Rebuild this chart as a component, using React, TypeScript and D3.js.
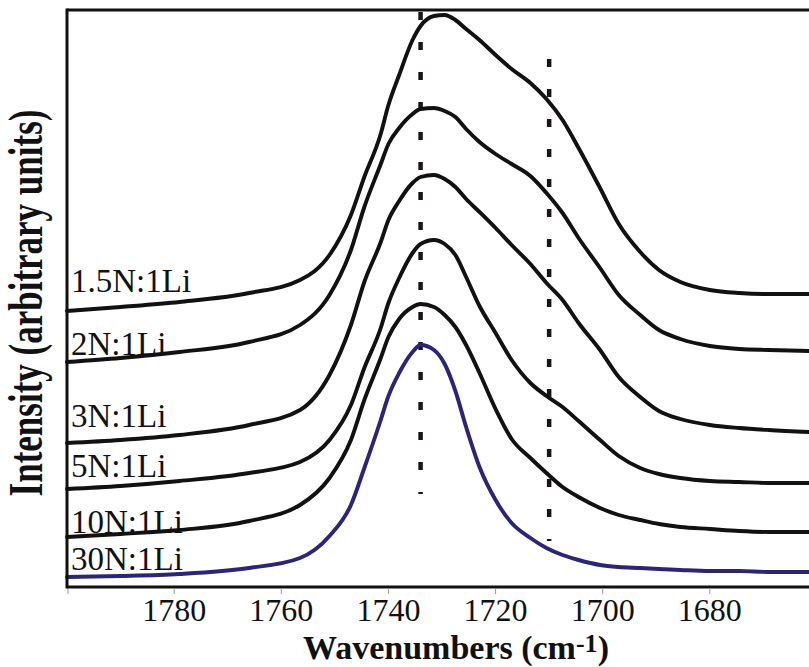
import React from "react";
import * as d3 from "d3";

// Wavenumber grid (cm-1) shared by every spectrum
const wavenumbers = [
  1800, 1790, 1779, 1766, 1756.5, 1751, 1747, 1744.5, 1741.5, 1740, 1738, 1735.5, 1734,
  1731.5, 1729.5, 1727.5, 1725.5, 1723, 1720, 1717, 1713.5, 1710.5, 1707.5, 1704.5,
  1700.5, 1697, 1693, 1689.5, 1685.5, 1680, 1674.5, 1669, 1661.5,
];

// Offset intensities (arbitrary units), one array per N:Li ratio
const s15N = [
  2.76, 2.8, 2.85, 2.94, 3.07, 3.32, 3.72, 4.1, 4.52, 4.82, 5.12, 5.47, 5.61, 5.71, 5.72,
  5.67, 5.58, 5.47, 5.32, 5.18, 5.04, 4.88, 4.67, 4.39, 3.99, 3.63, 3.35, 3.17, 3.05, 2.97,
  2.94, 2.93, 2.93,
];
const s2N = [
  2.25, 2.29, 2.35, 2.45, 2.62, 2.92, 3.37, 3.8, 4.22, 4.43, 4.59, 4.73, 4.78, 4.79, 4.76,
  4.7, 4.58, 4.45, 4.33, 4.23, 4.11, 3.94, 3.74, 3.49, 3.19, 2.92, 2.72, 2.57, 2.48, 2.41,
  2.38, 2.37, 2.36,
];
const s3N = [
  1.44, 1.47, 1.52, 1.62, 1.77, 2.12, 2.62, 3.05, 3.44, 3.67, 3.86, 4.04, 4.1, 4.12, 4.08,
  4.0, 3.88, 3.75, 3.59, 3.42, 3.23, 3.04, 2.87, 2.64, 2.37, 2.1, 1.9, 1.76, 1.68, 1.62,
  1.59, 1.57, 1.55,
];
const s5N = [
  0.98, 1.01, 1.06, 1.14, 1.25, 1.47, 1.82, 2.19, 2.58, 2.84, 3.09, 3.34, 3.43, 3.47, 3.43,
  3.32, 3.1, 2.81, 2.54, 2.27, 2.04, 1.91, 1.8, 1.66, 1.47, 1.31, 1.19, 1.13, 1.09, 1.06,
  1.05, 1.04, 1.04,
];
const s10N = [
  0.5, 0.53, 0.57, 0.66, 0.82, 1.09, 1.47, 1.87, 2.28, 2.5, 2.68, 2.8, 2.83, 2.8, 2.72,
  2.6, 2.42, 2.14, 1.78, 1.48, 1.29, 1.14, 1.0, 0.9, 0.79, 0.72, 0.67, 0.63, 0.6, 0.58,
  0.56, 0.55, 0.55,
];
const s30N = [
  0.1, 0.11, 0.13, 0.19, 0.29, 0.51, 0.82, 1.19, 1.66, 1.91, 2.14, 2.35, 2.42, 2.37, 2.23,
  1.96, 1.6, 1.2, 0.87, 0.64, 0.49, 0.39, 0.32, 0.27, 0.22, 0.2, 0.19, 0.18, 0.17, 0.16,
  0.16, 0.15, 0.15,
];

const seriesNames = ["1.5N:1Li", "2N:1Li", "3N:1Li", "5N:1Li", "10N:1Li", "30N:1Li"];
const seriesValues = [s15N, s2N, s3N, s5N, s10N, s30N];
const seriesColors = ["#111111", "#111111", "#111111", "#111111", "#111111", "#2b2579"];
// label baselines, in intensity units
const labelLevels = [2.95, 2.32, 1.6, 1.1, 0.54, 0.17];

// Reference band positions (cm-1) and their vertical extent
const bandPositions = [1734, 1710];
const bandTop = [5.75, 5.28];
const bandBottom = [0.93, 0.46];

const xTicks = [1800, 1780, 1760, 1740, 1720, 1700, 1680, 1660];
const xTickLabels = ["", "1780", "1760", "1740", "1720", "1700", "1680", ""];

const W = 809;
const H = 667;
const left = 67;
const top = 10;
const bottom = 587;

const serif = "'Liberation Serif', Tinos, 'Times New Roman', Times, serif";

export default function App() {
  const x = d3.scaleLinear().domain([1800, 1660]).range([left, 817]);
  const y = d3.scaleLinear().domain([0, 5.77]).range([bottom, top]);

  const line = d3
    .line<[number, number]>()
    .x((d) => x(d[0]))
    .y((d) => y(d[1]))
    .curve(d3.curveMonotoneX);

  return (
    <svg
      width={W}
      height={H}
      style={{ position: "fixed", left: 0, top: 0, background: "#fff", fontFamily: serif }}
    >
      <rect x={0} y={0} width={W} height={H} fill="#fff" />

      {/* dotted reference bands */}
      {bandPositions.map((b, i) => (
        <line
          key={"band" + i}
          x1={x(b)}
          x2={x(b)}
          y1={y(bandTop[i])}
          y2={y(bandBottom[i])}
          stroke="#1a1414"
          strokeWidth={4.5}
          strokeDasharray="8 22"
        />
      ))}

      {/* spectra */}
      {seriesValues.map((vals, i) => (
        <path
          key={"s" + i}
          d={line(wavenumbers.map((w, j) => [w, vals[j]] as [number, number])) || ""}
          fill="none"
          stroke={seriesColors[i]}
          strokeWidth={3.9}
          strokeLinejoin="round"
          strokeLinecap="round"
        />
      ))}

      {/* series labels */}
      {seriesNames.map((n, i) => (
        <text
          key={"l" + i}
          x={left + 4}
          y={y(labelLevels[i])}
          fontSize={33}
          fill="#111"
          style={{ fontFamily: serif }}
        >
          {n}
        </text>
      ))}

      {/* frame */}
      <line x1={left} x2={W} y1={top} y2={top} stroke="#111" strokeWidth={3} />
      <line x1={left} x2={left} y1={top - 1.5} y2={bottom + 1.5} stroke="#111" strokeWidth={3} />
      <line x1={left} x2={W} y1={bottom} y2={bottom} stroke="#111" strokeWidth={3} />

      {/* x ticks */}
      {xTicks.map((t, i) => (
        <g key={"t" + i} transform={`translate(${x(t) + (i === 0 ? 1 : 0)},0)`}>
          <line y1={bottom + 1.5} y2={bottom + 7} stroke="#999" strokeWidth={1} />
          <text
            y={621}
            textAnchor="middle"
            fontSize={32}
            fill="#111"
            style={{ fontFamily: serif }}
          >
            {xTickLabels[i]}
          </text>
        </g>
      ))}

      {/* axis titles */}
      <text
        x={456}
        y={659}
        textAnchor="middle"
        fontSize={34}
        fontWeight="bold"
        fill="#111"
        style={{ fontFamily: serif }}
      >
        Wavenumbers (cm
        <tspan fontSize={26} dy={-7}>-1</tspan>
        <tspan dy={7}>)</tspan>
      </text>
      <text
        transform={`translate(42,303) rotate(-90) scale(1,1.37)`}
        textAnchor="middle"
        fontSize={35}
        fontWeight="bold"
        fill="#111"
        style={{ fontFamily: serif }}
      >
        Intensity (arbitrary units)
      </text>
    </svg>
  );
}
